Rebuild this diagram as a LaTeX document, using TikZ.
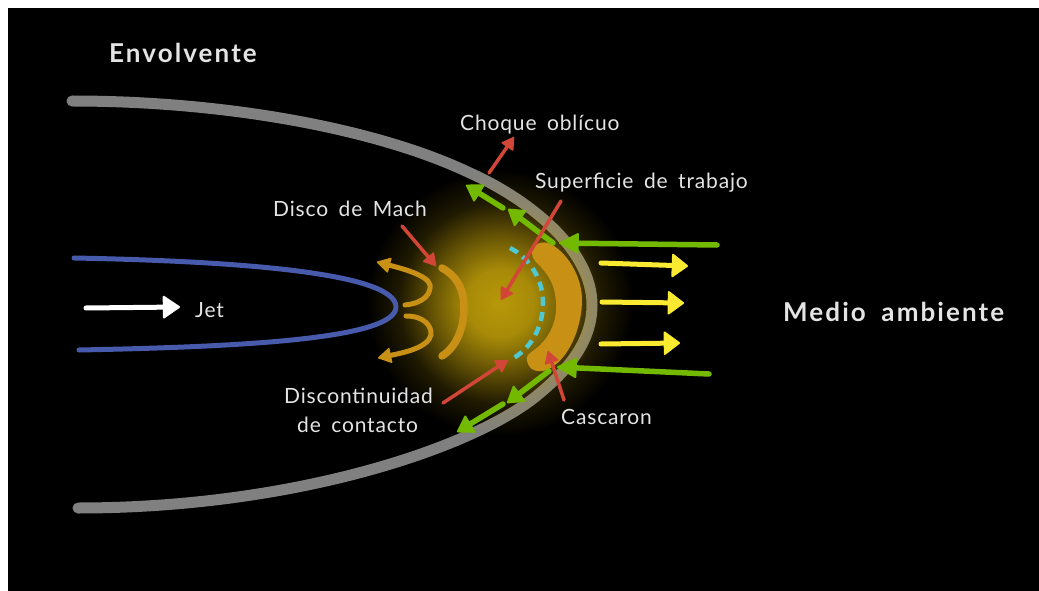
\documentclass[tikz,border=0pt]{standalone}
\usepackage{fontspec}
\setmainfont{Lato}
\newfontfamily\labfont[LetterSpace=4]{Lato}
\newfontfamily\headfont[LetterSpace=8]{Lato}
\usetikzlibrary{arrows.meta,fadings,calc}
\definecolor{envgray}{RGB}{128,128,128}
\definecolor{jetblue}{RGB}{72,90,172}
\definecolor{shellorange}{RGB}{200,145,22}
\definecolor{flowgreen}{RGB}{115,185,0}
\definecolor{inflow}{RGB}{250,235,50}
\definecolor{callout}{RGB}{210,70,55}
\definecolor{contactcyan}{RGB}{80,200,210}
\definecolor{glowyellow}{RGB}{200,165,10}
\definecolor{labeltext}{RGB}{228,228,228}
% soft radial mask for the hot cocoon
\pgfdeclareradialshading{glowmask}{\pgfpoint{0bp}{0bp}}{%
  color(0bp)=(pgftransparent!8);
  color(5.8bp)=(pgftransparent!16);
  color(11.5bp)=(pgftransparent!48);
  color(17.3bp)=(pgftransparent!84);
  color(23bp)=(pgftransparent!100);
  color(50bp)=(pgftransparent!100)}
\pgfdeclarefading{glowfade}{\pgfuseshading{glowmask}}
\tikzset{
  x=1pt,y=-1pt,
  curveline/.style={line cap=round,line join=round},
  whitetip/.tip={Triangle[length=18pt,width=24pt,line width=2pt,round]},
  yellowtip/.tip={Triangle[length=17pt,width=25pt,line width=2pt,round]},
  greentip/.tip={Triangle[length=21pt,width=21pt,line width=2pt,round]},
  shorttip/.tip={Triangle[length=17pt,width=21pt,line width=2pt,round]},
  redtip/.tip={Triangle[length=13pt,width=15pt,line width=1.5pt,round]},
  orangetip/.tip={Triangle[length=14pt,width=16pt,line width=1.5pt,round]},
  yellowarrow/.style={draw=inflow,line width=5pt,line cap=round,-{yellowtip[fill=inflow]}},
  greenarrow/.style={draw=flowgreen,line width=5.5pt,line cap=round,-{greentip[fill=flowgreen]}},
  greenshort/.style={draw=flowgreen,line width=5.5pt,line cap=round,-{shorttip[fill=flowgreen]}},
  redarrow/.style={draw=callout,line width=3.5pt,line cap=round,-{redtip[fill=callout]}},
  orangeflow/.style={draw=shellorange,line width=5pt,line cap=round,-{orangetip[fill=shellorange]}},
  lab/.style={text=labeltext,font=\labfont\fontsize{21}{25}\selectfont,inner sep=0pt,
    align=center,execute at begin node={\spaceskip=0.5em\relax}},
  headlab/.style={text=labeltext,font=\headfont\fontsize{26}{30}\selectfont\bfseries,inner sep=0pt,
    execute at begin node={\spaceskip=0.6em\relax}},
}
\begin{document}
\begin{tikzpicture}
\useasboundingbox (0,0) rectangle (1039,591);
\fill[white] (0,0) rectangle (1039,591);
\fill[black] (8,8) rectangle (1039,591);

% bow shock envelope
\draw[envgray,line width=11pt,curveline]
  (72,101) .. controls (230,101) and (380,130) .. (470,173)
  .. controls (530,200) and (592,250) .. (592,305)
  .. controls (592,340) and (570,368) .. (540,393)
  .. controls (480,445) and (300,508) .. (78,508);

% hot cocoon glow, laid over the envelope
\fill[glowyellow,path fading=glowfade] (500,303) circle (145);

% jet beam
\draw[jetblue,line width=5pt,curveline]
  (74,258) .. controls (230,261) and (396,272) .. (396,307)
  .. controls (396,340) and (230,347) .. (79,350);

% shocked shell
\fill[shellorange]
  (532,253) .. controls (532,244) and (542,240) .. (551,244)
  .. controls (571,256) and (582,280) .. (582,300)
  .. controls (582,325) and (571,353) .. (555,365)
  .. controls (546,373) and (530,375) .. (527,361)
  .. controls (525,353) and (534,352) .. (541,344)
  .. controls (551,334) and (557,320) .. (556,303)
  .. controls (555,285) and (549,276) .. (540,266)
  .. controls (536,262) and (532,259) .. (532,253) -- cycle;

% Mach disc and backflow
\draw[shellorange,line width=7.5pt,curveline]
  (442,268) .. controls (458,277) and (464,290) .. (464,308)
  .. controls (464,330) and (455,348) .. (442,356);
\draw[orangeflow] (405,305) .. controls (425,303) and (431,293) .. (430,285)
  .. controls (428,275) and (400,268) .. (377,262);
\draw[orangeflow] (406,316) .. controls (424,316) and (432,326) .. (431,335)
  .. controls (428,348) and (402,353) .. (378,358);

% contact discontinuity
\draw[contactcyan,line width=4.5pt,dash pattern=on 9pt off 6.3pt]
  (510,248) .. controls (530,258) and (543,280) .. (543,303)
  .. controls (543,328) and (530,350) .. (510,360);

% inflowing ambient medium
\coordinate (ya1) at (601,263); \coordinate (yb1) at (688,266);
\coordinate (ya2) at (602,302); \coordinate (yb2) at (684,303);
\coordinate (ya3) at (601,344); \coordinate (yb3) at (680,343);
\draw[yellowarrow] (ya1) -- (yb1);
\draw[yellowarrow] (ya2) -- (yb2);
\draw[yellowarrow] (ya3) -- (yb3);

% ambient gas deflected along the envelope
\coordinate (ga1) at (717,245); \coordinate (gb1) at (559,243);
\coordinate (ga2) at (709,374); \coordinate (gb2) at (557,367);
\draw[greenarrow] (ga1) -- (gb1);
\draw[greenarrow] (ga2) -- (gb2);
\coordinate (gc1) at (553,243); \coordinate (gd1) at (508,209);
\coordinate (gc2) at (503,208); \coordinate (gd2) at (466,185);
\coordinate (gc3) at (549,371); \coordinate (gd3) at (507,403);
\coordinate (gc4) at (503,404); \coordinate (gd4) at (457,432);
\draw[greenshort] (gc1) -- (gd1);
\draw[greenshort] (gc2) -- (gd2);
\draw[greenshort] (gc3) -- (gd3);
\draw[greenshort] (gc4) -- (gd4);

% jet direction
\coordinate (wa) at (86,308); \coordinate (wb) at (180,307);
\draw[white,line width=5pt,line cap=round,-{whitetip[fill=white]}] (wa) -- (wb);

% labels
\node[headlab,anchor=base west] (envolvente) at (109,63) {Envolvente};
\node[headlab,anchor=base west] (medio) at (783,321) {Medio ambiente};
\node[lab,anchor=base west] (jet) at (195,317) {Jet};
\node[lab,anchor=base west] (choque) at (460,131) {Choque oblícuo};
\node[lab,anchor=base west] (superficie) at (535,189) {Superficie de trabajo};
\node[lab,anchor=base west] (mach) at (273,216) {Disco de Mach};
\node[lab,anchor=base west] (disc) at (284,403) {Discontinuidad};
\node[lab,anchor=base west] (contacto) at (297,432) {de contacto};
\node[lab,anchor=base west] (cascaron) at (561,424) {Cascaron};

% callout arrows from the labels
\coordinate (rChoque) at (489,173); \coordinate (tChoque) at (514,137);
\coordinate (rSup) at (561,201); \coordinate (tSup) at (501,300);
\coordinate (rMach) at (402,226); \coordinate (tMach) at (436,266);
\coordinate (rDisc) at (443,403); \coordinate (tDisc) at (508,360);
\coordinate (rCasc) at (564,400); \coordinate (tCasc) at (548,351);
\draw[redarrow] (rChoque) -- (tChoque);
\draw[redarrow] (rSup) -- (tSup);
\draw[redarrow] (rMach) -- (tMach);
\draw[redarrow] (rDisc) -- (tDisc);
\draw[redarrow] (rCasc) -- (tCasc);
\end{tikzpicture}
\end{document}
